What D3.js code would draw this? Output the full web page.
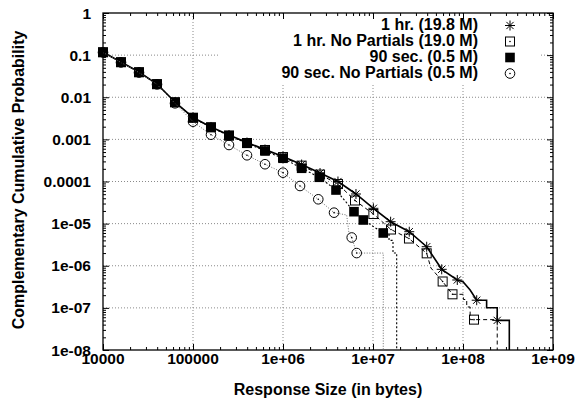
<!DOCTYPE html>
<html><head><meta charset="utf-8">
<script src="https://cdn.jsdelivr.net/npm/d3@7/dist/d3.min.js"></script>
<style>body{margin:0;background:#fff}svg{display:block}text{font-family:"Liberation Sans",Arial,sans-serif;font-weight:bold;fill:#000}</style>
</head><body>
<svg id="c" width="584" height="398"></svg>
<script>
// ---- data ----
const xTickValues = [1e4, 1e5, 1e6, 1e7, 1e8, 1e9];
const xTickLabels = ["10000", "100000", "1e+06", "1e+07", "1e+08", "1e+09"];
const yTickValues = [1, 0.1, 0.01, 0.001, 1e-4, 1e-5, 1e-6, 1e-7, 1e-8];
const yTickLabels = ["1", "0.1", "0.01", "0.001", "0.0001", "1e-05", "1e-06", "1e-07", "1e-08"];
const seriesNames = ["1 hr. (19.8 M)", "1 hr. No Partials (19.0 M)", "90 sec. (0.5 M)", "90 sec. No Partials (0.5 M)"];

// 1 hr. (19.8 M) — marker points and full line
const hourMarks = [[1e4,0.118],[15849,0.0687],[25119,0.0397],[39811,0.0206],[63096,0.00771],[1e5,0.00331],[158489,0.00197],[251189,0.00127],[398107,0.000843],[630957,0.000575],[1e6,0.000392],[1.61e6,0.000253],[2.58e6,0.000159],[4.08e6,1.0e-4],[6.47e6,5.05e-5],[1.01e7,2.31e-5],[1.57e7,1.11e-5],[2.53e7,6.43e-6],[3.95e7,2.83e-6],[5.80e7,8.23e-7],[8.64e7,4.59e-7],[1.42e8,1.52e-7],[2.40e8,5.05e-8]];
const hourLine = [[1e4,0.118],[15849,0.0687],[25119,0.0397],[39811,0.0206],[63096,0.00771],[1e5,0.00331],[158489,0.00197],[251189,0.00127],[398107,0.000843],[630957,0.000575],[1e6,0.000392],[1.61e6,0.000253],[2.58e6,0.000159],[4.08e6,1.0e-4],[6.47e6,5.05e-5],[1.01e7,2.31e-5],[1.57e7,1.11e-5],[2.53e7,6.43e-6],[3.95e7,2.83e-6],[5.80e7,8.23e-7],[8.64e7,4.59e-7],[1.0e8,4.19e-7],[1.2e8,2.66e-7],[1.42e8,1.52e-7],[1.83e8,1.52e-7],[1.83e8,1.01e-7],[2.40e8,1.01e-7],[2.40e8,5.05e-8],[3.27e8,5.05e-8],[3.27e8,1e-10]];

// 1 hr. No Partials (19.0 M)
const hourNPMarks = [[1e4,0.117],[15849,0.068],[25119,0.0393],[39811,0.0204],[63096,0.0076],[1e5,0.00327],[158489,0.00193],[251189,0.00124],[398107,0.00082],[630957,0.00056],[1e6,0.00038],[1.61e6,0.000238],[2.58e6,0.000146],[4.08e6,8.7e-5],[6.31e6,3.54e-5],[1.01e7,1.69e-5],[1.585e7,7.25e-6],[2.51e7,4.43e-6],[3.95e7,1.97e-6],[5.94e7,4.23e-7],[7.64e7,2.1e-7],[1.325e8,5.26e-8]];
const hourNPLine = [[1e4,0.117],[15849,0.068],[25119,0.0393],[39811,0.0204],[63096,0.0076],[1e5,0.00327],[158489,0.00193],[251189,0.00124],[398107,0.00082],[630957,0.00056],[1e6,0.00038],[1.61e6,0.000238],[2.58e6,0.000146],[4.08e6,8.7e-5],[6.31e6,3.54e-5],[1.01e7,1.69e-5],[1.585e7,7.25e-6],[2.51e7,4.43e-6],[3.95e7,1.97e-6],[4.4e7,8.85e-7],[5.94e7,4.23e-7],[7.64e7,2.1e-7],[1.01e8,2.1e-7],[1.01e8,1.58e-7],[1.1e8,1.58e-7],[1.1e8,1.05e-7],[1.2e8,1.05e-7],[1.2e8,5.26e-8],[2.40e8,5.26e-8],[2.40e8,1e-10]];

// 90 sec. (0.5 M)
const secMarks = [[1e4,0.1167],[15849,0.0676],[25119,0.0391],[39811,0.0206],[63096,0.00759],[1e5,0.00325],[158489,0.00194],[251189,0.00122],[398107,0.000807],[630957,0.00053],[1e6,0.000356],[1.61e6,0.000206],[2.53e6,0.000126],[3.88e6,6.28e-5],[6.15e6,1.92e-5],[7.8e6,1.22e-5],[1.3e7,6e-6]];
const secLine = [[1e4,0.1167],[15849,0.0676],[25119,0.0391],[39811,0.0206],[63096,0.00759],[1e5,0.00325],[158489,0.00194],[251189,0.00122],[398107,0.000807],[630957,0.00053],[1e6,0.000356],[1.61e6,0.000206],[2.53e6,0.000126],[3.88e6,6.28e-5],[6.15e6,1.92e-5],[7.8e6,1.22e-5],[1.3e7,6e-6],[1.507e7,6e-6],[1.507e7,4e-6],[1.668e7,4e-6],[1.668e7,2e-6],[1.833e7,2e-6],[1.833e7,1e-10]];

// 90 sec. No Partials (0.5 M)
const secNPMarks = [[1e4,0.116],[15849,0.067],[25119,0.0385],[39811,0.0202],[63096,0.00718],[1e5,0.00263],[158489,0.00129],[251189,0.000735],[398107,0.000419],[630957,0.000257],[1e6,0.000162],[1.546e6,7.82e-5],[2.466e6,3.78e-5],[3.69e6,1.82e-5],[5.8e6,4.69e-6],[6.59e6,2e-6]];
const secNPLine = [[1e4,0.116],[15849,0.067],[25119,0.0385],[39811,0.0202],[63096,0.00718],[1e5,0.00263],[158489,0.00129],[251189,0.000735],[398107,0.000419],[630957,0.000257],[1e6,0.000162],[1.546e6,7.82e-5],[2.466e6,3.78e-5],[3.69e6,1.82e-5],[5.1e6,1.6e-5],[5.4e6,6e-6],[5.8e6,4.69e-6],[6.59e6,2e-6],[1.3e7,2e-6],[1.3e7,1e-10]];

// ---- layout ----
const L = 103, R = 553, T = 13, B = 350;
const svg = d3.select("#c");
const x = d3.scaleLog().domain([1e4, 1e9]).range([L, R]);
const y = d3.scaleLog().domain([1e-8, 1]).range([B, T]);

svg.append("defs").append("clipPath").attr("id", "clip")
  .append("rect").attr("x", L).attr("y", T).attr("width", R - L).attr("height", B - T);

// grid
const grid = svg.append("g").attr("stroke", "#8a8a8a").attr("stroke-width", 1).attr("stroke-dasharray", "1,2");
xTickValues.slice(1, -1).forEach(v => grid.append("line").attr("x1", x(v)).attr("x2", x(v)).attr("y1", T).attr("y2", B));
yTickValues.slice(1, -1).forEach(v => grid.append("line").attr("x1", L).attr("x2", R).attr("y1", y(v)).attr("y2", y(v)));
// key area hides grid
svg.append("rect").attr("x", 220).attr("y", T + 1).attr("width", 320).attr("height", 69).attr("fill", "#fff");

// axes with inward ticks (major + minor) on all four sides
const minorX = [], minorY = [];
for (let e = 4; e < 9; e++) for (let m = 2; m <= 9; m++) minorX.push(m * Math.pow(10, e));
for (let e = -8; e < 0; e++) for (let m = 2; m <= 9; m++) minorY.push(m * Math.pow(10, e));

function axisG(axis, tr) { return svg.append("g").attr("transform", tr).call(axis).call(g => { g.selectAll("text").remove(); g.select(".domain").remove(); g.selectAll("line").attr("stroke", "#000"); }); }
axisG(d3.axisBottom(x).tickValues(xTickValues).tickSize(-6), `translate(0,${B})`);
axisG(d3.axisBottom(x).tickValues(minorX).tickSize(-3), `translate(0,${B})`);
axisG(d3.axisTop(x).tickValues(xTickValues).tickSize(-6), `translate(0,${T})`);
axisG(d3.axisTop(x).tickValues(minorX).tickSize(-3), `translate(0,${T})`);
axisG(d3.axisLeft(y).tickValues(yTickValues).tickSize(-6), `translate(${L},0)`);
axisG(d3.axisLeft(y).tickValues(minorY).tickSize(-3), `translate(${L},0)`);
axisG(d3.axisRight(y).tickValues(yTickValues).tickSize(-6), `translate(${R},0)`);
axisG(d3.axisRight(y).tickValues(minorY).tickSize(-3), `translate(${R},0)`);

svg.append("rect").attr("x", L).attr("y", T).attr("width", R - L).attr("height", B - T)
  .attr("fill", "none").attr("stroke", "#000").attr("stroke-width", 1.3);

// tick labels
svg.append("g").selectAll("text").data(xTickValues).join("text")
  .attr("x", d => x(d)).attr("y", 364).attr("text-anchor", "middle").attr("font-size", 15.5)
  .text((d, i) => xTickLabels[i]);
svg.append("g").selectAll("text").data(yTickValues).join("text")
  .attr("x", 91).attr("y", d => y(d) + 5.5).attr("text-anchor", "end").attr("font-size", 15.5)
  .text((d, i) => yTickLabels[i]);

// axis titles
svg.append("text").attr("x", 328).attr("y", 395).attr("text-anchor", "middle").attr("font-size", 16)
  .text("Response Size (in bytes)");
svg.append("text").attr("transform", "translate(24,180) rotate(-90)").attr("text-anchor", "middle").attr("font-size", 16)
  .text("Complementary Cumulative Probability");

// markers
function drawMarker(g, type, cx, cy) {
  if (type === 0) {
    const r = 5, q = 3.6;
    g.append("path").attr("d", `M${cx - r},${cy}H${cx + r}M${cx},${cy - r}V${cy + r}M${cx - q},${cy - q}L${cx + q},${cy + q}M${cx - q},${cy + q}L${cx + q},${cy - q}`)
      .attr("stroke", "#000").attr("stroke-width", 1).attr("fill", "none");
  } else if (type === 1) {
    g.append("rect").attr("x", cx - 4.5).attr("y", cy - 4.5).attr("width", 9).attr("height", 9)
      .attr("fill", "none").attr("stroke", "#000").attr("stroke-width", 1);
    g.append("circle").attr("cx", cx).attr("cy", cy).attr("r", 0.8).attr("fill", "#000");
  } else if (type === 2) {
    g.append("rect").attr("x", cx - 4.8).attr("y", cy - 4.8).attr("width", 9.6).attr("height", 9.6).attr("fill", "#000");
  } else {
    g.append("circle").attr("cx", cx).attr("cy", cy).attr("r", 4.8)
      .attr("fill", "none").attr("stroke", "#000").attr("stroke-width", 1);
    g.append("circle").attr("cx", cx).attr("cy", cy).attr("r", 0.8).attr("fill", "#000");
  }
}

const series = [
  {line: hourLine, marks: hourMarks, stroke: "#000", width: 1.6, dash: null},
  {line: hourNPLine, marks: hourNPMarks, stroke: "#000", width: 1, dash: "4,3"},
  {line: secLine, marks: secMarks, stroke: "#000", width: 1.1, dash: "2,2"},
  {line: secNPLine, marks: secNPMarks, stroke: "#6e6e6e", width: 1, dash: "1,1.6"}
];
const lineGen = d3.line().x(d => x(d[0])).y(d => y(d[1]));

series.forEach((s, i) => {
  const g = svg.append("g");
  g.append("path").attr("d", lineGen(s.line)).attr("clip-path", "url(#clip)")
    .attr("fill", "none").attr("stroke", s.stroke).attr("stroke-width", s.width)
    .attr("stroke-dasharray", s.dash);
  s.marks.forEach(d => drawMarker(g, i, x(d[0]), y(d[1])));
});

// legend
const leg = svg.append("g");
seriesNames.forEach((name, i) => {
  const by = 30 + i * 16;
  leg.append("text").attr("x", 478).attr("y", by).attr("text-anchor", "end").attr("font-size", 16).text(name);
  drawMarker(leg, i, 510, by - 4.5);
});
</script>
</body></html>
